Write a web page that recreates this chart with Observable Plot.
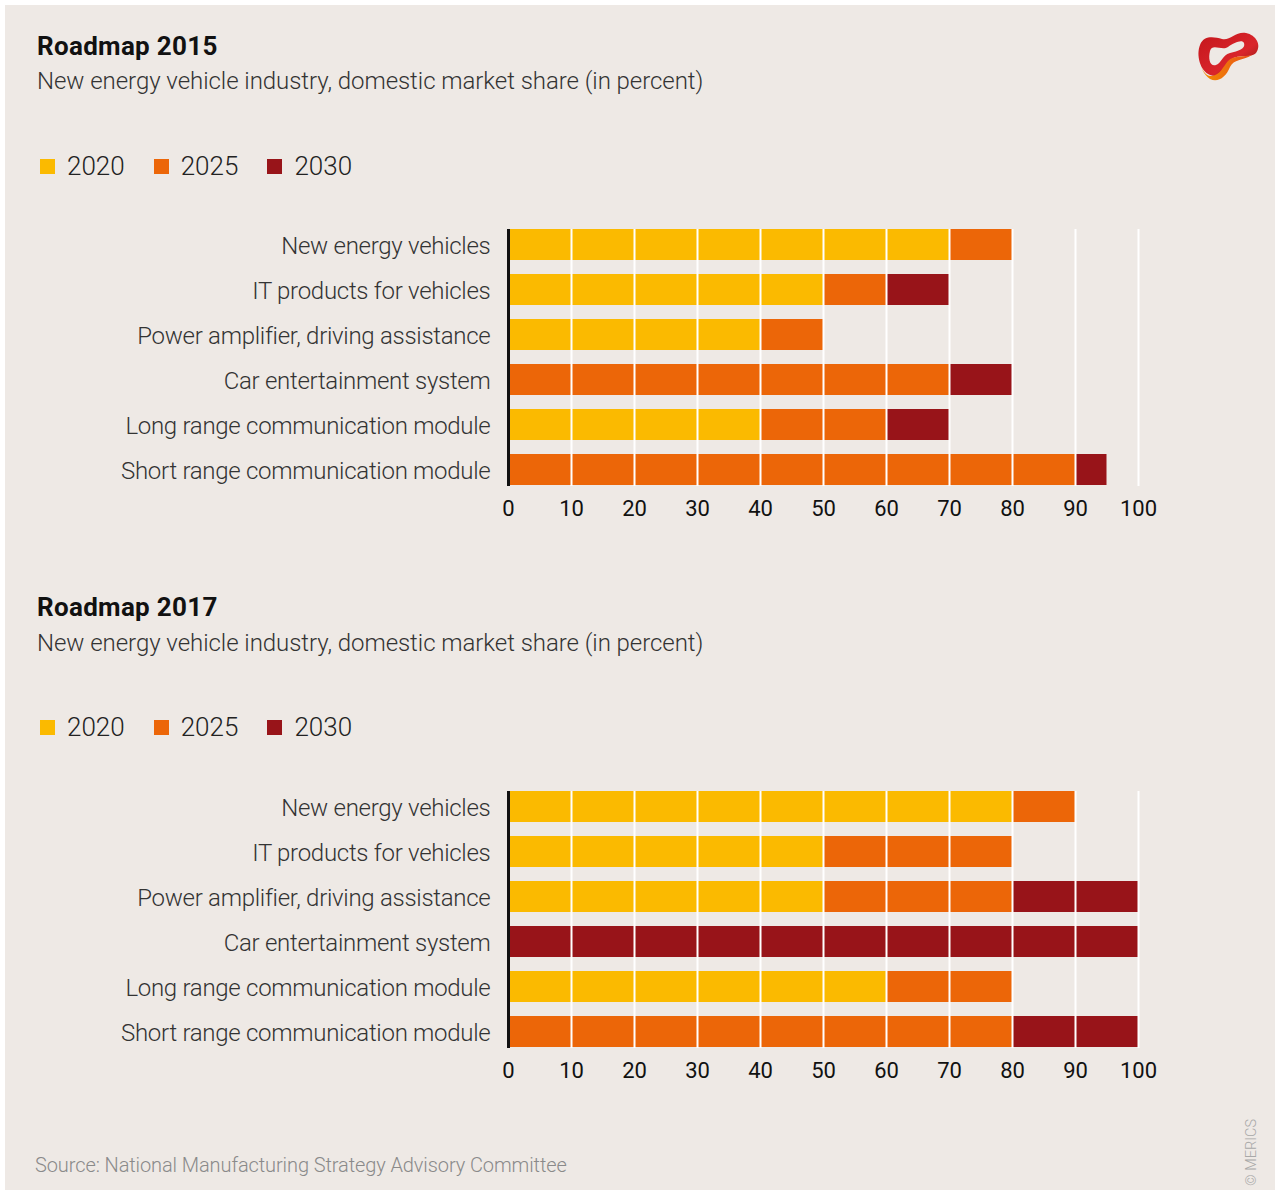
<!DOCTYPE html>
<html>
<head>
<meta charset="utf-8">
<script src="https://cdn.jsdelivr.net/npm/d3@7"></script>
<script src="https://cdn.jsdelivr.net/npm/@observablehq/plot@0.6"></script>
<style>
  html, body { margin: 0; padding: 0; background: #ffffff; }
  body { width: 1281px; height: 1193px; position: relative; overflow: hidden; font-family: Roboto, "Noto Sans", sans-serif; }
  #card { position: absolute; left: 5px; top: 5px; width: 1270px; height: 1185px; background: #EEE9E5; }
  .title { position: absolute; left: 32px; font-weight: 700; font-size: 26px; color: #111; line-height: 1; letter-spacing: 0.3px; }
  .subtitle { position: absolute; left: 32px; font-weight: 300; font-size: 24px; color: #333; line-height: 1; letter-spacing: -0.05px; }
  .legend { position: absolute; left: 35px; display: flex; align-items: center; font-size: 26px; font-weight: 300; color: #222; line-height: 1; }
  .legend .item { display: flex; align-items: center; margin-right: 29px; }
  .legend .sw { width: 15px; height: 15px; margin-right: 12px; }
  .chart { position: absolute; left: 0; }
  svg.chart g[aria-label="y-axis tick label"] { letter-spacing: -0.28px; }
  .source { position: absolute; left: 30px; top: 1148px; font-size: 20px; font-weight: 300; color: #8a8a8a; letter-spacing: -0.1px; }
  .copy { position: absolute; left: 1238px; top: 1181px; transform-origin: 0 0; transform: rotate(-90deg); font-size: 14.5px; color: #a8a8a8; font-weight: 300; white-space: nowrap; }
  .logo { position: absolute; left: 1185px; top: 22px; }
</style>
</head>
<body>
<div id="card"></div>
<script>
const categories = [
  "New energy vehicles",
  "IT products for vehicles",
  "Power amplifier, driving assistance",
  "Car entertainment system",
  "Long range communication module",
  "Short range communication module"
];
const years = ["2020", "2025", "2030"];
const yearColors = ["#FBBA00", "#EC6608", "#981419"];
const xTicks = [0, 10, 20, 30, 40, 50, 60, 70, 80, 90, 100];

// Roadmap 2015 targets (cumulative domestic market share, percent)
const r2015_2020 = [70, 50, 40, null, 40, null];
const r2015_2025 = [80, 60, 50, 70, 60, 90];
const r2015_2030 = [null, 70, null, 80, 70, 95];

// Roadmap 2017 targets
const r2017_2020 = [80, 50, 50, null, 60, null];
const r2017_2025 = [90, 80, 80, null, 80, 80];
const r2017_2030 = [null, null, 100, 100, null, 100];

const card = document.getElementById("card");

function segments(series) {
  const out = [];
  categories.forEach((c, i) => {
    let prev = 0;
    series.forEach((s, k) => {
      const v = s[i];
      if (v != null) {
        out.push({category: c, year: years[k], x1: prev, x2: v});
        prev = v;
      }
    });
  });
  return out;
}

function addText(cls, text, top) {
  const d = document.createElement("div");
  d.className = cls;
  d.style.top = top + "px";
  d.textContent = text;
  card.appendChild(d);
}

function addLegend(top) {
  const l = document.createElement("div");
  l.className = "legend";
  l.style.top = top + "px";
  years.forEach((y, i) => {
    const it = document.createElement("div");
    it.className = "item";
    const sw = document.createElement("div");
    sw.className = "sw";
    sw.style.background = yearColors[i];
    const t = document.createElement("span");
    t.textContent = y;
    it.appendChild(sw); it.appendChild(t);
    l.appendChild(it);
  });
  card.appendChild(l);
}

function chart(series, top) {
  const data = segments(series);
  const p = Plot.plot({
    width: 1270,
    height: 333,
    marginLeft: 503,
    marginRight: 137,
    marginTop: 17,
    marginBottom: 45,
    style: {background: "transparent", fontFamily: "Roboto, sans-serif", overflow: "visible"},
    x: {domain: [0, 100], axis: null},
    y: {domain: categories, paddingInner: 0.31, paddingOuter: 0.155, axis: null},
    color: {domain: years, range: yearColors},
    marks: [
      Plot.barX(data, {y: "category", x1: "x1", x2: "x2", fill: "year", inset: 0}),
      Plot.ruleX(xTicks.slice(1), {stroke: "#ffffff", strokeWidth: 2, insetTop: 7, insetBottom: 7}),
      Plot.ruleX([0], {stroke: "#111", strokeWidth: 3, insetTop: 7, insetBottom: 7}),
      Plot.axisY({tickSize: 0, tickPadding: 18, fontSize: 24, fontWeight: 300, fill: "#333", label: null, dy: 1.5}),
      Plot.axisX({ticks: xTicks, tickSize: 0, tickPadding: 7, fontSize: 22, fill: "#111", label: null})
    ]
  });
  p.classList.add("chart");
  p.style.top = top + "px";
  card.appendChild(p);
}

// Chart 1
addText("title", "Roadmap 2015", 28);
addText("subtitle", "New energy vehicle industry, domestic market share (in percent)", 64);
addLegend(148);
chart([r2015_2020, r2015_2025, r2015_2030], 200);

// Chart 2
addText("title", "Roadmap 2017", 589);
addText("subtitle", "New energy vehicle industry, domestic market share (in percent)", 626);
addLegend(709);
chart([r2017_2020, r2017_2025, r2017_2030], 762);

addText("source", "Source: National Manufacturing Strategy Advisory Committee", 1148);
const cp = document.createElement("div");
cp.className = "copy";
cp.textContent = "© MERICS";
card.appendChild(cp);

// decorative logo
const logo = document.createElement("div");
logo.className = "logo";
logo.innerHTML = `<svg width="75" height="60" viewBox="0 0 75 60">
<defs>
<linearGradient id="lg1" x1="0" y1="0" x2="1" y2="1">
<stop offset="0" stop-color="#c4161c"/><stop offset="0.6" stop-color="#d9252b"/><stop offset="1" stop-color="#7a1a0e"/>
</linearGradient>
<linearGradient id="lg2" x1="0" y1="0" x2="1" y2="0">
<stop offset="0" stop-color="#f39200"/><stop offset="1" stop-color="#e8501a"/>
</linearGradient>
</defs>
<path d="M10 18 C 14 8, 24 10, 32 12 C 40 14, 46 4, 56 6 C 66 8, 72 18, 66 26 C 60 32, 46 26, 40 34 C 34 44, 30 52, 20 48 C 10 44, 6 28, 10 18 Z M20 24 C 18 32, 20 40, 26 38 C 32 36, 32 28, 40 26 C 48 24, 56 22, 54 16 C 52 12, 44 16, 38 20 C 32 24, 22 16, 20 24 Z" fill="url(#lg1)" fill-rule="evenodd"/>
<path d="M9 30 C 10 42, 16 50, 22 49 C 30 48, 33 40, 38 34 C 44 28, 54 30, 62 28 C 52 34, 44 32, 40 40 C 36 50, 28 56, 20 52 C 14 48, 10 40, 9 30 Z" fill="url(#lg2)"/>
</svg>`;
card.appendChild(logo);
</script>
</body>
</html>
